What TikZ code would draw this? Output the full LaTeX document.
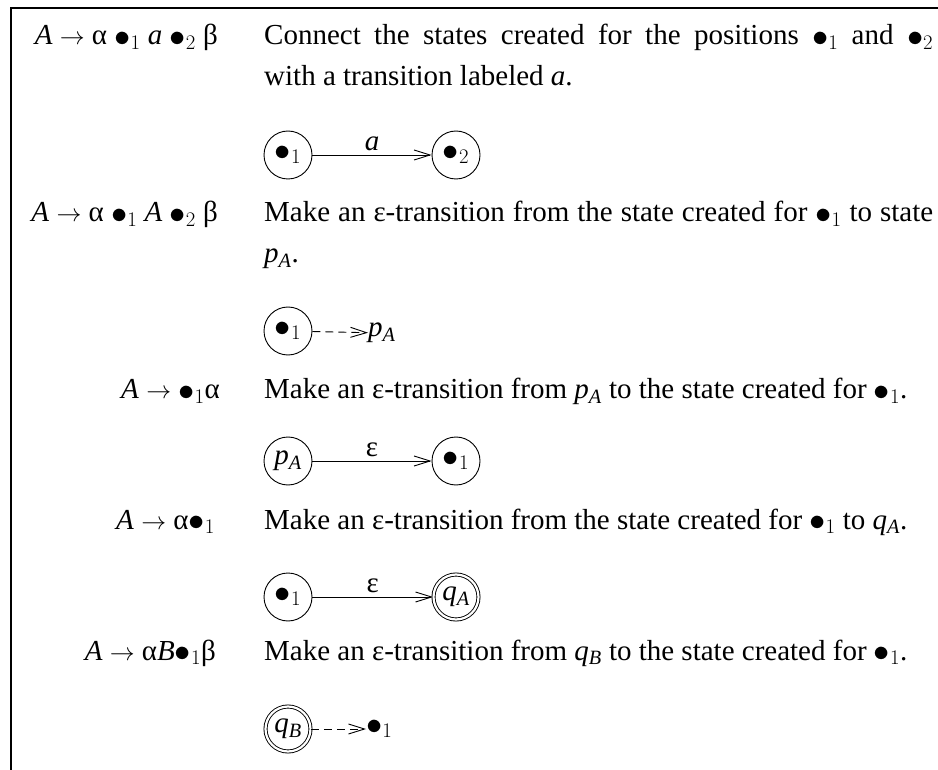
\documentclass[tikz,border=0pt]{standalone}
\usepackage{fontspec}
\setmainfont{Liberation Serif}
\usepackage{graphicx}
\usepackage{tikz}
\usetikzlibrary{arrows.meta,positioning}

\newcommand{\posn}[1]{\mbox{\raisebox{-0.05em}{\scalebox{1.3}{$\bullet$}}$_{#1}$}}
\newcommand{\stname}[2]{\textit{#1}\textsubscript{\textit{#2}}}

\begin{document}
\begin{tikzpicture}[x=1pt, y=-1pt,
  font=\fontsize{29}{41}\selectfont,
  prod/.style={anchor=base east, inner sep=0pt},
  desc/.style={anchor=base west, inner sep=0pt, text width=669pt, align=justify},
  state/.style={circle, draw, line width=0.9pt, minimum size=48pt, inner sep=0pt},
  accept/.style={state, double, double distance=2.2pt, minimum size=45pt},
  bare/.style={inner sep=0pt},
  trans/.style={line width=0.9pt, -{Straight Barb[length=16pt, width=10pt]}},
  etrans/.style={trans, dash pattern=on 8pt off 5pt}]
\useasboundingbox (0,0) rectangle (938,770);

% frame
\draw[line width=2pt] (10,8) -- (938,8);
\draw[line width=1.2pt] (11,8) -- (11,770);

% terminal
\node[prod] (prodterm) at (218,45) {\textit{A} $\rightarrow$ α \posn{1} \textit{a} \posn{2} β};
\node[desc] (descterm) at (264,45)
  {Connect the states created for the positions \posn{1} and \posn{2}\linebreak
   with a transition labeled \textit{a}.};
\node[state] (termfrom) at (288,155) {\posn{1}};
\node[state] (termto) at (456,155) {\posn{2}};
\draw[trans] (termfrom) -- node[above] {\textit{a}} (termto);

% nonterminal
\node[prod] (prodnont) at (218,222) {\textit{A} $\rightarrow$ α \posn{1} \textit{A} \posn{2} β};
\node[desc] (descnont) at (264,222)
  {Make an ε-transition from the state created for \posn{1} to state\linebreak
   \stname{p}{A}.};
\node[state] (nontfrom) at (288,331) {\posn{1}};
\node[bare, anchor=west] (nontto) at (368,333) {\stname{p}{A}};
\draw[etrans] (nontfrom) -- (nontto);

% start of rule
\node[prod] (prodstart) at (220,399) {\textit{A} $\rightarrow$ \posn{1}α};
\node[desc] (descstart) at (264,399)
  {Make an ε-transition from \stname{p}{A} to the state created for \posn{1}.};
\node[state] (startfrom) at (288,461) {\stname{p}{A}};
\node[state] (startto) at (456,461) {\posn{1}};
\draw[trans] (startfrom) -- node[above] {ε} (startto);

% end of rule
\node[prod] (prodend) at (215,529) {\textit{A} $\rightarrow$ α\posn{1}};
\node[desc] (descend) at (264,529)
  {Make an ε-transition from the state created for \posn{1} to \stname{q}{A}.};
\node[state] (endfrom) at (288,597) {\posn{1}};
\node[accept] (endto) at (456,597) {\stname{q}{A}};
\draw[trans] (endfrom) -- node[above] {ε} (endto);

% return
\node[prod] (prodret) at (216,660) {\textit{A} $\rightarrow$ α\textit{B}\posn{1}β};
\node[desc] (descret) at (264,660)
  {Make an ε-transition from \stname{q}{B} to the state created for \posn{1}.};
\node[accept] (retfrom) at (288,729) {\stname{q}{B}};
\node[bare, anchor=west] (retto) at (366,729) {\posn{1}};
\draw[etrans] (retfrom) -- (retto);
\end{tikzpicture}
\end{document}
